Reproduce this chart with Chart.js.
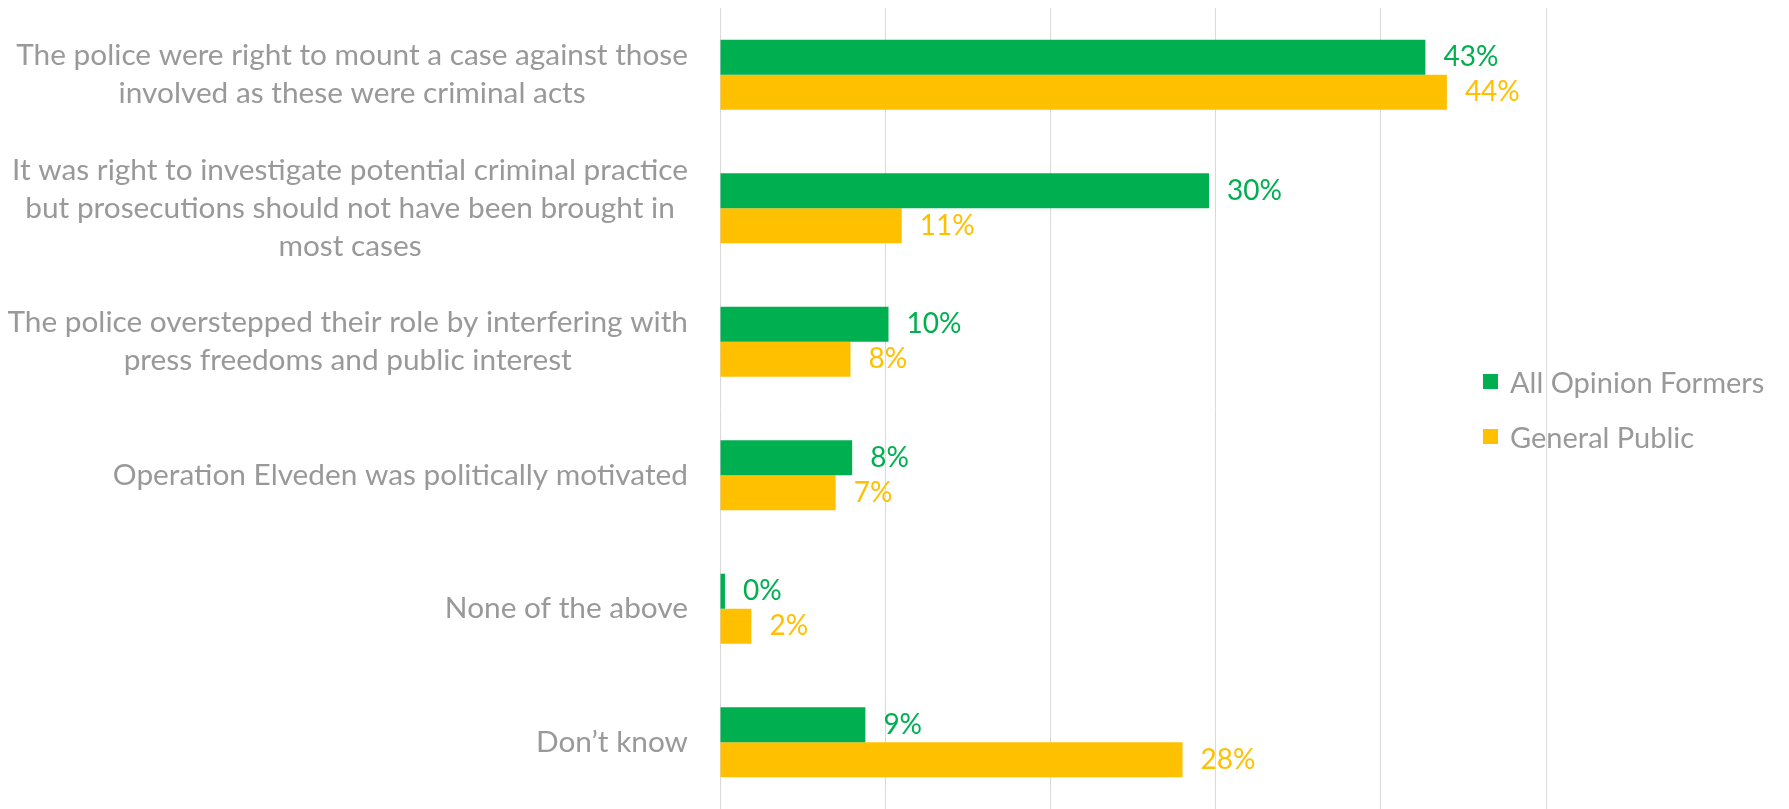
<!DOCTYPE html>
<html>
<head>
<meta charset="utf-8">
<script src="https://cdn.jsdelivr.net/npm/chart.js@4.4.0/dist/chart.umd.min.js"></script>
<style>
html, body { margin: 0; padding: 0; background: #fff; }
#wrap { position: relative; width: 1789px; height: 809px; }
#legend { position: absolute; left: 1483px; top: 354px; font-family: Lato, sans-serif; font-size: 29px; color: #999; }
.item { display: flex; align-items: center; height: 55px; white-space: nowrap; }
.box { width: 15px; height: 15px; margin-right: 12px; }
</style>
</head>
<body>
<div id="wrap">
  <canvas id="chart"></canvas>
  <div id="legend"></div>
</div>
<script>
const categories = [
  ['The police were right to mount a case against those', 'involved as these were criminal acts'],
  ['It was right to investigate potential criminal practice', 'but prosecutions should not have been brought in', 'most cases'],
  ['The police overstepped their role by interfering with', 'press freedoms and public interest'],
  ['Operation Elveden was politically motivated'],
  ['None of the above'],
  ['Don\u2019t know']
];
const seriesNames = ['All Opinion Formers', 'General Public'];
const opinionFormers = [42.7, 29.6, 10.2, 8.0, 0.3, 8.8];
const generalPublic = [44.0, 11.0, 7.9, 7.0, 1.9, 28.0];
const colors = ['#00B050', '#FFC000'];

const labelFont = '29.8px Lato';
const valueFont = '28px Lato';
const textGray = '#999999';

// bar end labels
const valueLabels = {
  id: 'valueLabels',
  afterDatasetsDraw(chart) {
    const ctx = chart.ctx;
    ctx.save();
    ctx.font = valueFont;
    ctx.textAlign = 'left';
    ctx.textBaseline = 'middle';
    chart.data.datasets.forEach((ds, di) => {
      ctx.fillStyle = ds.backgroundColor;
      chart.getDatasetMeta(di).data.forEach((bar, i) => {
        ctx.fillText(Math.round(ds.data[i]) + '%', bar.x + 18, bar.y);
      });
    });
    ctx.restore();
  }
};

// category labels: block right aligned, lines centred inside the block
const categoryLabels = {
  id: 'categoryLabels',
  afterDraw(chart) {
    const ctx = chart.ctx;
    const yScale = chart.scales.y;
    const right = chart.chartArea.left - 32;
    ctx.save();
    ctx.font = labelFont;
    ctx.fillStyle = textGray;
    ctx.textAlign = 'center';
    ctx.textBaseline = 'middle';
    categories.forEach((lines, i) => {
      const y = yScale.getPixelForTick(i);
      const w = Math.max(...lines.map(l => ctx.measureText(l).width));
      const cx = right - w / 2;
      lines.forEach((l, j) => {
        ctx.fillText(l, cx, y + (j - (lines.length - 1) / 2) * 38);
      });
    });
    ctx.restore();
  }
};

const chart = new Chart(document.getElementById('chart'), {
  type: 'bar',
  data: {
    labels: categories,
    datasets: [
      { label: seriesNames[0], data: opinionFormers, backgroundColor: colors[0] },
      { label: seriesNames[1], data: generalPublic, backgroundColor: colors[1] }
    ]
  },
  options: {
    indexAxis: 'y',
    responsive: true,
    maintainAspectRatio: false,
    animation: false,
    categoryPercentage: 0.525,
    barPercentage: 1.0,
    layout: { padding: { left: 712, right: 243, top: 8, bottom: 0 } },
    plugins: {
      legend: { display: false },
      tooltip: { enabled: false }
    },
    scales: {
      x: {
        min: 0,
        max: 50,
        ticks: { display: false, stepSize: 10 },
        grid: { color: '#D9D9D9', lineWidth: 1, drawTicks: false },
        border: { display: false }
      },
      y: {
        ticks: { display: false },
        grid: { display: false },
        border: { display: false }
      }
    }
  },
  plugins: [valueLabels, categoryLabels]
});

// legend
const legendEl = document.getElementById('legend');
chart.data.datasets.forEach(ds => {
  const item = document.createElement('div');
  item.className = 'item';
  const box = document.createElement('span');
  box.className = 'box';
  box.style.background = ds.backgroundColor;
  const txt = document.createElement('span');
  txt.textContent = ds.label;
  item.appendChild(box);
  item.appendChild(txt);
  legendEl.appendChild(item);
});
</script>
</body>
</html>
